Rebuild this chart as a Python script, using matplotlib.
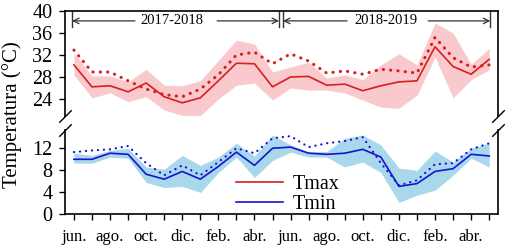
import matplotlib
matplotlib.use("Agg")
import matplotlib.pyplot as plt
import numpy as np

plt.rcParams["font.family"] = ["Liberation Serif", "DejaVu Serif"]

# monthly values jun 2017 - may 2019
months = list(range(24))
month_labels = ["jun.", "", "ago.", "", "oct.", "", "dic.", "", "feb.", "", "abr.", "",
                "jun.", "", "ago.", "", "oct.", "", "dic.", "", "feb.", "", "abr.", ""]

tmax = [30.2, 26.2, 26.4, 25.3, 26.9, 24.4, 23.3, 24.2, 27.3, 30.5, 30.4, 26.2,
        28.0, 28.1, 26.5, 26.7, 25.5, 26.4, 27.1, 27.3, 33.5, 29.9, 28.5, 31.2]
tmax_dot = [32.9, 28.9, 28.9, 27.3, 25.8, 24.8, 24.4, 25.8, 28.4, 32.0, 32.5, 30.4,
            32.2, 30.9, 28.7, 29.1, 28.5, 29.4, 29.1, 28.7, 35.2, 31.5, 29.8, 30.2]
tmax_hi = [32.4, 28.2, 28.2, 27.1, 29.4, 26.5, 26.4, 27.3, 31.0, 34.7, 34.0, 28.9,
           29.8, 30.7, 27.8, 28.4, 27.5, 30.2, 32.2, 30.2, 37.8, 36.0, 30.3, 33.2]
tmax_lo = [28.4, 24.2, 25.1, 23.5, 24.4, 22.0, 21.0, 21.0, 24.0, 26.5, 26.9, 23.8,
           26.0, 25.6, 25.6, 25.1, 23.8, 22.5, 22.3, 24.7, 31.6, 24.2, 27.5, 29.3]

tmin = [9.9, 9.9, 11.0, 10.8, 7.2, 6.3, 7.7, 6.3, 8.6, 11.2, 8.8, 11.9,
        12.1, 11.0, 10.8, 11.0, 11.7, 10.3, 5.0, 5.5, 7.7, 8.2, 10.8, 10.5]
tmin_dot = [11.2, 11.5, 11.7, 12.3, 9.2, 7.0, 8.8, 7.0, 9.4, 11.9, 11.0, 13.7,
            14.1, 12.1, 12.8, 13.2, 13.9, 9.2, 5.2, 6.1, 9.0, 9.2, 11.7, 12.8]
tmin_hi = [11.0, 10.6, 11.5, 11.9, 8.5, 8.1, 10.6, 8.8, 10.3, 12.8, 10.5, 14.3,
           12.5, 11.3, 11.3, 13.7, 14.3, 12.5, 8.3, 7.9, 11.4, 9.4, 11.9, 12.8]
tmin_lo = [9.2, 9.2, 10.3, 10.1, 5.7, 4.8, 5.0, 3.9, 7.5, 10.3, 6.6, 9.7,
           11.2, 10.3, 10.3, 8.5, 9.4, 7.5, 2.1, 3.4, 4.3, 7.0, 10.1, 8.5]

red = "#d81e1e"
blue = "#1414d2"

fig = plt.figure(figsize=(5.11, 2.5), dpi=100)
ax1 = fig.add_axes([0.127, 0.536, 0.848, 0.42])
ax2 = fig.add_axes([0.127, 0.144, 0.848, 0.336])

# Tmax panel
ax1.fill_between(months, tmax_lo, tmax_hi, color="#fac9cd", lw=0)
ax1.plot(months, tmax_dot, color=red, lw=2.2, linestyle=(0, (0.1, 2.3)),
         dash_capstyle="round")
ax1.plot(months, tmax, color=red, lw=1.2)

# Tmin panel
ax2.fill_between(months, tmin_lo, tmin_hi, color="#a9d8ec", lw=0)
ax2.plot(months, tmin_dot, color=blue, lw=1.6, linestyle=(0, (0.1, 2.6)),
         dash_capstyle="round")
ax2.plot(months, tmin, color=blue, lw=1.2)

for ax in (ax1, ax2):
    ax.set_xlim(-0.5, 23.5)
    ax.tick_params(direction="out", length=4, width=1, labelsize=14.5, pad=5)
    for s in ax.spines.values():
        s.set_linewidth(1.2)

ax1.set_ylim(20.9, 40)
ax1.set_yticks([24, 28, 32, 36, 40])
ax1.spines["bottom"].set_visible(False)
ax1.tick_params(axis="x", bottom=False, labelbottom=False)

ax2.set_ylim(0, 15.2)
ax2.set_yticks([0, 4, 8, 12])
ax2.spines["top"].set_visible(False)
ax2.set_xticks(months)
ax2.set_xticklabels(month_labels, fontsize=12)
ax2.tick_params(axis="x", pad=7)

# legend (proxy lines)
h1, = ax2.plot([], [], color=red, lw=1.2, label="Tmax")
h2, = ax2.plot([], [], color=blue, lw=1.2, label="Tmin")
ax2.legend(handles=[h1, h2], loc="center", bbox_to_anchor=(0.515, 0.235),
           frameon=False, fontsize=14.5, handlelength=2.3, handletextpad=0.5,
           labelspacing=0.05, borderpad=0)

# broken axis marks
kw = dict(marker=[(-1, -1), (1, 1)], markersize=9, linestyle="none",
          color="k", mec="k", mew=1, clip_on=False)
ax1.plot([0, 1], [0, 0], transform=ax1.transAxes, **kw)
ax2.plot([0, 1], [1, 1], transform=ax2.transAxes, **kw)

# period arrows
ya = 38.2
arr = dict(arrowstyle="->", color="#333333", lw=0.9, shrinkA=0, shrinkB=0)
for xb in (-0.1, 11.36, 11.58, 23.06):
    ax1.plot([xb, xb], [37.0, 40], color="#333333", lw=1.0)
ax1.annotate("", xy=(-0.1, ya), xytext=(3.38, ya), arrowprops=arr)
ax1.annotate("", xy=(11.36, ya), xytext=(7.93, ya), arrowprops=arr)
ax1.annotate("", xy=(11.58, ya), xytext=(15.13, ya), arrowprops=arr)
ax1.annotate("", xy=(23.06, ya), xytext=(19.62, ya), arrowprops=arr)
ax1.text(5.43, ya, "2017-2018", ha="center", va="center", fontsize=10.5)
ax1.text(17.3, ya, "2018-2019", ha="center", va="center", fontsize=10.5)

fig.text(0.024, 0.54, "Temperatura (°C)", rotation=90, ha="center", va="center",
         fontsize=15)

fig.savefig("out.png", dpi=100)
